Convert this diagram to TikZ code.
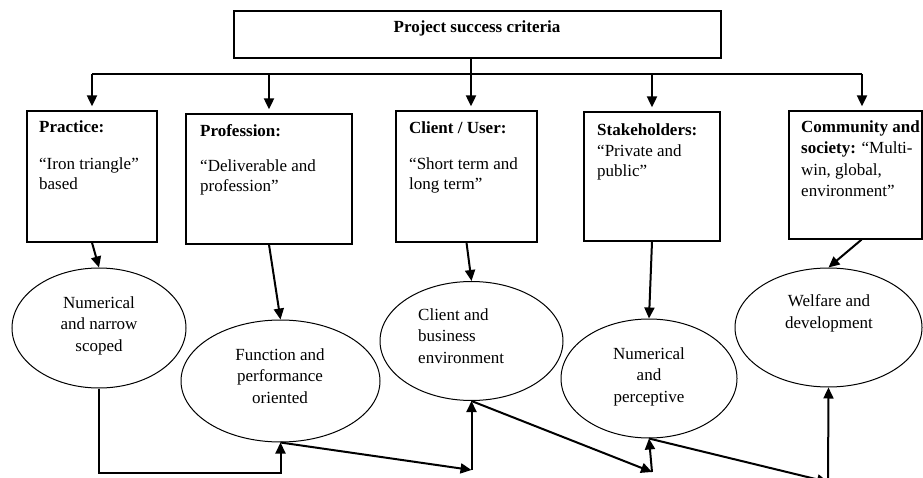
\documentclass[tikz,border=0pt]{standalone}
\usepackage{fontspec}
\setmainfont{Liberation Serif}
\usetikzlibrary{arrows.meta,shapes.geometric,calc}

\begin{document}
\begin{tikzpicture}[x=1pt,y=-1pt,
  critbox/.style={draw, line width=1.3pt, inner sep=0pt},
  oval/.style={draw, ellipse, line width=1pt, inner sep=0pt},
  txt/.style={inner sep=0pt, font=\fontsize{17}{20.5}\selectfont},
  otxt/.style={inner sep=0pt, font=\fontsize{17}{21.5}\selectfont},
  link/.style={line width=2pt},
  flow/.style={line width=2pt, -{Triangle[length=11pt,width=10pt]}}
]
\useasboundingbox (0,0) rectangle (923,478);

% heading box
\node[critbox, minimum width=487pt, minimum height=47pt] (top) at (477.5,34.5) {};
\node[txt, anchor=base] (title) at (477,33) {\bfseries Project success criteria};

% criteria boxes
\node[critbox, minimum width=130pt, minimum height=131pt] (b1) at (92,176.5) {};
\node[critbox, minimum width=166pt, minimum height=130pt] (b2) at (269,179) {};
\node[critbox, minimum width=141pt, minimum height=131pt] (b3) at (466.5,176.5) {};
\node[critbox, minimum width=136pt, minimum height=129pt] (b4) at (652,176.5) {};
\node[critbox, minimum width=133pt, minimum height=128pt] (b5) at (855.5,175) {};

% box texts (anchored on the baseline of their last line)
\node[txt, anchor=base west, align=left] (t1) at (39,190)
  {\textbf{Practice:}\\[16pt]“Iron triangle”\\based};
\node[txt, anchor=base west, align=left] (t2) at (200,192)
  {\textbf{Profession:}\\[14.5pt]“Deliverable and\\profession”};
\node[txt, anchor=base west, align=left] (t3) at (409,190)
  {\textbf{Client / User:}\\[15.5pt]“Short term and\\long term”};
\node[txt, anchor=base west, align=left] (t4) at (597,177)
  {\textbf{Stakeholders:}\\“Private and\\public”};
\node[txt, anchor=base west, align=left, font=\fontsize{17}{21.5}\selectfont] (t5) at (801,197)
  {\textbf{Community and}\\\textbf{society:} “Multi-\\win, global,\\environment”};

% outcome ellipses
\node[oval, minimum width=174pt, minimum height=120pt] (e1) at (99,328) {};
\node[oval, minimum width=199pt, minimum height=122pt] (e2) at (280.5,381) {};
\node[oval, minimum width=183pt, minimum height=119pt] (e3) at (471.5,341) {};
\node[oval, minimum width=176pt, minimum height=119pt] (e4) at (649,378.5) {};
\node[oval, minimum width=187pt, minimum height=119pt] (e5) at (828.5,327.5) {};

\node[otxt, anchor=base, align=center] (o1) at (99,351)
  {Numerical\\and narrow\\scoped};
\node[otxt, anchor=base, align=center] (o2) at (280,403)
  {Function and\\performance\\oriented};
\node[otxt, anchor=base west, align=left] (o3) at (418,363)
  {Client and\\business\\environment};
\node[otxt, anchor=base, align=center] (o4) at (649,402)
  {Numerical\\and\\perceptive};
\node[otxt, anchor=base, align=center] (o5) at (829,328)
  {Welfare and\\development};

% distribution bus
\coordinate (k1) at (92,74);
\coordinate (k2) at (269,74);
\coordinate (k3) at (471,74);
\coordinate (k4) at (652,74);
\coordinate (k5) at (862,74);
\draw[link] (k1) -- (k5);
\draw[flow, shorten >=4pt] (k3 |- top.south) -- (k3 |- b3.north);
\draw[flow, shorten >=4pt] (k1) -- (k1 |- b1.north);
\draw[flow, shorten >=4pt] (k2) -- (k2 |- b2.north);
\draw[flow, shorten >=4pt] (k4) -- (k4 |- b4.north);
\draw[flow, shorten >=4pt] (k5) -- (k5 |- b5.north);

% boxes to ellipses
\draw[flow] (b1.south) -- (e1.north);
\draw[flow] (b2.south) -- (e2.north);
\draw[flow] (b3.south) -- (e3.north);
\draw[flow] (b4.south) -- (e4.north);
\draw[flow] ($(b5.south)+(6,0)$) -- (e5.north);

% chain along the bottom
\coordinate (j1) at (e3.south |- 0,470);
\coordinate (j2) at (652,472);
\coordinate (j3) at (828,482);
\draw[flow] (e1.south) |- ($(e2.south)+(0,30)$) -- (e2.south);
\draw[flow] (e2.south) -- (j1);
\draw[flow] (j1) -- (e3.south);
\draw[flow] (e3.south) -- (j2);
\draw[flow] (j2) -- (e4.south);
\draw[flow] (e4.south) -- (j3);
\draw[flow] (j3) -- (e5.south);
\end{tikzpicture}
\end{document}
